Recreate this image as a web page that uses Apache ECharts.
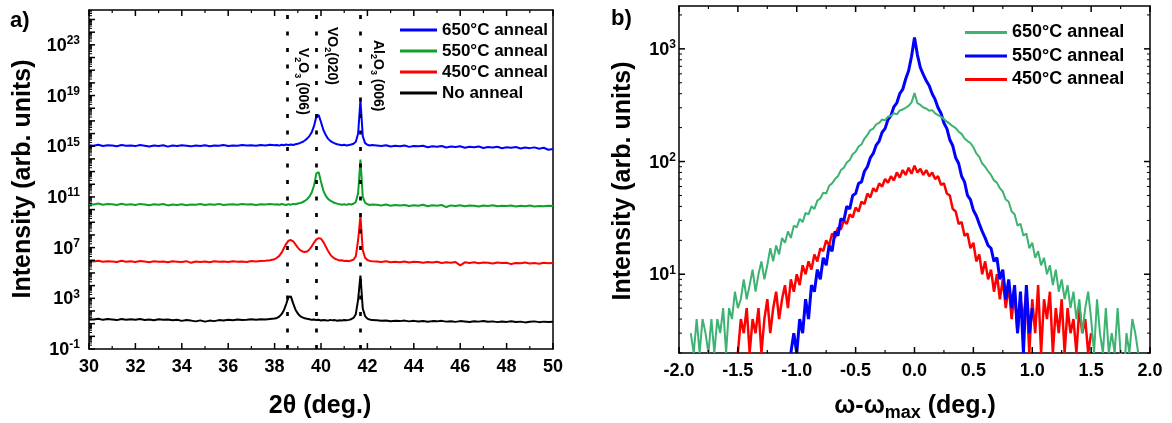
<!DOCTYPE html>
<html><head><meta charset="utf-8">
<script src="https://cdn.jsdelivr.net/npm/echarts@6/dist/echarts.min.js"></script>
<style>html,body{margin:0;padding:0;background:#fff}#chart{width:1172px;height:423px}</style>
</head><body><div id="chart"></div>
<script>
// ---------- Panel a) XRD 2theta scans (values are log10 of intensity) ----------
const twoTheta = [
30,30.2,30.4,30.6,30.8,31,31.2,31.4,31.6,31.8,
32,32.2,32.4,32.6,32.8,33,33.2,33.4,33.6,33.8,
34,34.2,34.4,34.6,34.8,35,35.2,35.4,35.6,35.8,
36,36.2,36.4,36.6,36.8,37,37.2,37.4,37.6,37.8,
38,
38.1,38.2,38.3,38.4,38.5,38.6,38.7,38.8,38.9,39,
39.1,39.2,39.3,39.4,39.5,39.6,39.7,39.8,39.9,40,
40.1,40.2,40.3,40.4,40.5,40.6,40.7,40.8,40.9,41,
41.1,41.2,41.3,41.4,41.5,41.6,41.7,41.8,41.9,42,
42.1,42.2,
42.4,42.6,42.8,43,43.2,43.4,43.6,43.8,44,44.2,
44.4,44.6,44.8,45,45.2,45.4,45.6,45.8,46,46.2,
46.4,46.6,46.8,47,47.2,47.4,47.6,47.8,48,48.2,
48.4,48.6,48.8,49,49.2,49.4,49.6,49.8,50
];
const log10I_noAnneal = [
1.35,1.32,1.38,1.30,1.36,1.33,1.28,1.37,1.31,1.34,
1.30,1.36,1.29,1.33,1.27,1.35,1.30,1.32,1.26,1.31,
1.22,1.28,1.24,1.18,1.26,1.16,1.24,1.20,1.28,1.25,
1.30,1.27,1.33,1.29,1.31,1.35,1.30,1.34,1.32,1.36,
1.40,
1.45,1.55,1.75,2.05,2.55,3.10,3.15,2.60,2.10,1.80,
1.60,1.50,1.42,1.38,1.35,1.30,1.33,1.28,1.31,1.25,
1.29,1.27,1.24,1.30,1.26,1.28,1.23,1.27,1.25,1.29,
1.26,1.30,1.35,1.45,1.75,2.90,4.80,2.20,1.60,1.40,
1.32,1.28,
1.26,1.22,1.25,1.19,1.23,1.20,1.24,1.18,1.22,1.17,
1.21,1.15,1.20,1.18,1.22,1.16,1.19,1.14,1.20,1.17,
1.13,1.19,1.16,1.21,1.15,1.18,1.12,1.17,1.14,1.19,
1.13,1.16,1.10,1.15,1.18,1.12,1.16,1.13,1.15
];
const log10I_450C = [
5.95,5.90,5.97,5.88,5.93,5.91,5.86,5.96,5.89,5.92,
5.87,5.94,5.90,5.85,5.93,5.88,5.91,5.84,5.92,5.89,
5.86,5.93,5.80,5.90,5.87,5.91,5.85,5.92,5.88,5.90,
5.86,5.93,5.89,5.91,5.87,5.94,5.90,5.95,5.96,6.00,
6.08,
6.20,6.35,6.60,6.95,7.30,7.55,7.60,7.50,7.25,7.00,
6.80,6.70,6.65,6.70,6.85,7.10,7.40,7.65,7.75,7.70,
7.45,7.10,6.75,6.45,6.25,6.12,6.05,5.98,6.00,5.95,
5.97,5.93,5.98,6.05,6.30,7.60,9.50,6.80,6.20,6.02,
5.95,5.92,
5.90,5.86,5.92,5.84,5.89,5.85,5.91,5.82,5.88,5.86,
5.80,5.87,5.83,5.89,5.78,5.85,5.81,5.86,5.60,5.84,
5.79,5.85,5.76,5.82,5.80,5.74,5.83,5.78,5.81,5.70,
5.79,5.76,5.82,5.74,5.78,5.72,5.80,5.77,5.79
];
const log10I_550C = [
10.45,10.40,10.48,10.38,10.44,10.42,10.36,10.46,10.39,10.43,
10.37,10.45,10.40,10.34,10.42,10.38,10.44,10.33,10.41,10.37,
10.43,10.35,10.40,10.38,10.44,10.36,10.42,10.39,10.45,10.37,
10.41,10.43,10.38,10.44,10.40,10.42,10.37,10.43,10.41,10.44,
10.40,
10.42,10.38,10.44,10.40,10.36,10.43,10.39,10.45,10.42,10.48,
10.52,10.58,10.68,10.82,11.02,11.35,11.90,12.85,12.95,12.20,
11.50,11.10,10.85,10.70,10.60,10.52,10.47,10.43,10.38,10.42,
10.37,10.44,10.40,10.46,10.60,11.30,13.95,11.00,10.55,10.42,
10.36,10.40,
10.38,10.33,10.40,10.30,10.36,10.32,10.37,10.28,10.35,10.31,
10.38,10.26,10.34,10.30,10.36,10.20,10.33,10.29,10.35,10.27,
10.32,10.30,10.24,10.33,10.28,10.34,10.26,10.31,10.29,10.33,
10.25,10.30,10.27,10.32,10.24,10.29,10.26,10.31,10.28
];
const log10I_650C = [
15.08,15.04,15.12,15.02,15.07,15.05,15.00,15.10,15.03,15.06,
15.01,15.09,15.04,14.98,15.06,15.02,15.08,14.97,15.05,15.01,
15.07,15.03,14.99,15.06,15.02,15.08,15.00,15.05,15.03,15.09,
15.02,15.06,15.04,15.10,15.05,15.08,15.03,15.09,15.06,15.11,
15.08,
15.10,15.05,15.12,15.08,15.14,15.09,15.13,15.10,15.16,15.20,
15.26,15.33,15.45,15.60,15.80,16.10,16.60,17.35,17.45,16.90,
16.30,15.90,15.60,15.42,15.30,15.22,15.16,15.12,15.08,15.11,
15.06,15.10,15.14,15.20,15.35,16.00,18.65,15.80,15.25,15.12,
15.06,15.09,
15.06,15.02,15.08,14.98,15.04,15.00,15.06,14.95,15.02,14.99,
15.04,14.92,15.00,14.96,15.02,14.90,14.98,14.94,15.00,14.88,
14.96,14.92,14.98,14.86,14.94,14.90,14.96,14.84,14.92,14.88,
14.94,14.82,14.90,14.85,14.91,14.80,14.88,14.72,14.78
];
const peakLines = [38.55, 39.78, 41.68];           // V2O3(006), VO2(020), Al2O3(006)
const panelAYLabelExponents = [-1, 3, 7, 11, 15, 19, 23];

// ---------- Panel b) rocking curves (counts) ----------
const omega = [
-1.9,-1.875,-1.85,-1.825,-1.8,-1.775,-1.75,-1.725,-1.7,-1.675,
-1.65,-1.625,-1.6,-1.575,-1.55,-1.525,-1.5,-1.475,-1.45,-1.425,
-1.4,-1.375,-1.35,-1.325,-1.3,-1.275,-1.25,-1.225,-1.2,-1.175,
-1.15,-1.125,-1.1,-1.075,-1.05,-1.025,-1,-0.975,-0.95,-0.925,
-0.9,-0.875,-0.85,-0.825,-0.8,-0.775,-0.75,-0.725,-0.7,-0.675,
-0.65,-0.625,-0.6,-0.575,-0.55,-0.525,-0.5,-0.475,-0.45,-0.425,
-0.4,-0.375,-0.35,-0.325,-0.3,-0.275,-0.25,-0.225,-0.2,-0.175,
-0.15,-0.125,-0.1,-0.075,-0.05,-0.025,0,0.025,0.05,0.075,
0.1,0.125,0.15,0.175,0.2,0.225,0.25,0.275,0.3,0.325,
0.35,0.375,0.4,0.425,0.45,0.475,0.5,0.525,0.55,0.575,
0.6,0.625,0.65,0.675,0.7,0.725,0.75,0.775,0.8,0.825,
0.85,0.875,0.9,0.925,0.95,0.975,1,1.025,1.05,1.075,
1.1,1.125,1.15,1.175,1.2,1.225,1.25,1.275,1.3,1.325,
1.35,1.375,1.4,1.425,1.45,1.475,1.5,1.525,1.55,1.575,
1.6,1.625,1.65,1.675,1.7,1.725,1.75,1.775,1.8,1.825,
1.85,1.875,1.9
];
const counts650C = [
3,2,4,2,4,3,2,4,2,4,
3,5,2,5,4,7,5,6,9,6,
8,11,7,10,13,9,12,17,13,18,
15,21,19,24,21,27,26,31,29,35,
34,40,38,45,47,53,52,61,64,70,
74,84,88,98,103,116,122,136,142,160,
172,190,196,214,220,236,232,250,254,268,
262,284,290,300,312,335,405,330,318,302,
296,282,286,268,258,250,238,226,216,206,
198,184,176,160,152,146,134,118,110,96,
90,82,76,68,65,58,54,46,44,36,
34,27,28,22,23,17,19,14,16,12,
14,10,12,8,11,7,9,6,8,5,
7,4,6,3,5,7,4,2,6,3,
2,5,2,3,2,5,2,1,3,2,
4,3,2
];
const counts550C = [
null,null,null,null,null,null,null,null,null,null,
null,null,null,null,null,null,null,null,null,null,
null,null,null,null,null,null,null,null,null,null,
null,null,null,null,2,3,2,4,3,6,
4,8,7,11,9,14,12,18,16,24,
22,31,30,40,38,50,52,64,66,82,
90,108,118,140,152,182,196,236,256,306,
332,400,436,540,640,860,1260,880,680,590,
520,470,400,356,300,268,220,196,156,138,
108,96,74,66,50,46,37,33,28,24,
21,18,17,13,14,9,11,6,9,5,
8,3,7,2,8,3,5,null,null,null,
null,null,null,null,null,null,null,null,null,null,
null,null,null,null,null,null,null,null,null,null,
null,null,null,null,null,null,null,null,null,null,
null,null,null
];
const counts450C = [
null,null,null,null,null,null,null,null,null,null,
null,null,null,null,null,null,2,4,3,5,
2,4,3,5,2,4,6,3,5,7,
4,6,8,5,9,7,10,8,12,10,
13,11,15,13,17,16,20,18,23,21,
26,25,30,28,34,32,39,36,44,42,
52,48,58,54,64,60,70,65,74,68,
80,72,84,76,88,78,92,80,86,76,
84,74,80,70,74,62,64,52,50,38,
36,28,29,22,23,17,19,13,15,10,
13,9,11,7,10,6,9,5,8,4,
7,3,6,4,7,2,6,3,8,2,
6,4,7,2,5,3,6,2,5,3,
4,2,5,3,4,2,3,null,null,null,
null,null,null,null,null,null,null,null,null,null,
null,null,null
];
const panelBYLabelExponents = [1, 2, 3];

// ---------- helpers ----------
const FONT = "'Liberation Sans', Arial, Helvetica, sans-serif";
function pairs(xs, ys, tf) {
  const out = [];
  for (let i = 0; i < xs.length; i++) {
    const v = ys[i];
    if (v === null || v === undefined) continue;
    out.push([xs[i], tf(v)]);
  }
  return out;
}
const pow10 = e => Math.pow(10, e);
const ident = v => v;

// axis settings
const A_XMIN = 30, A_XMAX = 50, A_XSTEP = 2;
const B_XMIN = -2, B_XMAX = 2, B_XSTEP = 0.5;
const A_MIN = -1, A_MAX = 25.75;                       // decades shown on panel a
const B_YMIN = 2, B_YMAX = 2400;                        // counts shown on panel b
const B_MIN = Math.log10(B_YMIN), B_MAX = Math.log10(B_YMAX);

// tick specs for the frame (drawn through the axes' own scales by custom series)
const MAJ = 6, MIN = 3;
function xTickItems(lo, hi, step) {
  const r = [];
  for (let v = lo; v <= hi + 1e-9; v += step) {
    const m = +(v.toFixed(6)), h = +((v + step / 2).toFixed(6));
    r.push([m, MAJ, 0], [m, MAJ, 1]);
    if (h < hi) r.push([h, MIN, 0], [h, MIN, 1]);
  }
  return r;
}
function yTickItems(loExp, hiExp, sides) {
  const r = [];
  for (let n = Math.floor(loExp); n <= Math.ceil(hiExp); n++) {
    for (let k = 1; k <= 9; k++) {
      const e = n + Math.log10(k);
      if (e < loExp - 1e-9 || e > hiExp + 1e-9) continue;
      sides.forEach(s => r.push([s, k * Math.pow(10, n), k === 1 ? MAJ : MIN]));
    }
  }
  return r;
}
function xTickRenderer(refY) {
  return function (params, api) {
    const cs = params.coordSys;
    const px = api.coord([api.value(0), refY])[0];
    const len = api.value(1), top = api.value(2) === 1;
    const y0 = top ? cs.y : cs.y + cs.height;
    const y1 = top ? y0 + len : y0 - len;
    return { type: 'line', shape: { x1: px, y1: y0, x2: px, y2: y1 },
      style: { stroke: '#000', lineWidth: len > 4 ? 1.5 : 1.2 } };
  };
}
function yTickRenderer(refX) {
  return function (params, api) {
    const cs = params.coordSys;
    const py = api.coord([refX, api.value(1)])[1];
    const len = api.value(2), right = api.value(0) === 1;
    const x0 = right ? cs.x + cs.width : cs.x;
    const x1 = right ? x0 - len : x0 + len;
    return { type: 'line', shape: { x1: x0, y1: py, x2: x1, y2: py },
      style: { stroke: '#000', lineWidth: len > 4 ? 1.5 : 1 } };
  };
}
const tickSeries = (xi, yi, data, renderItem) => ({
  type: 'custom', coordinateSystem: 'cartesian2d', xAxisIndex: xi, yAxisIndex: yi,
  data, renderItem, silent: true, animation: false, clip: false, z: 5
});

const supRich = {
  b: { fontSize: 18, fontWeight: 'bold', fontFamily: FONT, color: '#000', lineHeight: 20, verticalAlign: 'bottom' },
  s: { fontSize: 12, fontWeight: 'bold', fontFamily: FONT, color: '#000', verticalAlign: 'top' }
};
const expFormatter = v => '{b|10}{s|' + Math.round(v) + '}';
const xLabel = { color: '#000', fontSize: 18, fontWeight: 'bold', fontFamily: FONT, margin: 9 };
const axLine = { show: true, onZero: false, lineStyle: { color: '#000', width: 1.5 } };

function yFrameAxis(grid, lo, hi, pos, labels, margin) {
  return {
    gridIndex: grid, type: 'value', min: lo, max: hi, position: pos,
    axisLine: axLine, axisTick: { show: false }, minorTick: { show: false },
    axisLabel: labels ? { show: true, customValues: labels, formatter: expFormatter, rich: supRich, margin: margin } : { show: false },
    splitLine: { show: false }
  };
}
function xAxisDef(grid, lo, hi, step, pos, showLabels, fmt) {
  return {
    gridIndex: grid, type: 'value', min: lo, max: hi, interval: step, position: pos,
    axisLine: axLine, axisTick: { show: false }, minorTick: { show: false },
    axisLabel: showLabels ? Object.assign({ formatter: fmt }, xLabel) : { show: false },
    splitLine: { show: false }
  };
}

const legendNames = {
  a650: '650°C anneal', a550: '550°C anneal', a450: '450°C anneal', a0: 'No anneal',
  b650: '650°C anneal', b550: '550°C anneal', b450: '450°C anneal'
};
const lineSeries = (name, color, xi, yi, data, width) => ({
  name, type: 'line', xAxisIndex: xi, yAxisIndex: yi, data,
  color, showSymbol: false, symbol: 'none', animation: false, silent: true,
  lineStyle: { color, width }, clip: true
});

const subRich = {
  n: { fontSize: 14, fontWeight: 'bold', fontFamily: FONT, color: '#000' },
  sub: { fontSize: 9, fontWeight: 'bold', fontFamily: FONT, color: '#000', verticalAlign: 'bottom', padding: [10, 0, 0, 0] }
};
function rotLabel(x, y, text) {
  return { type: 'text', x, y, rotation: -Math.PI / 2, z: 100,
    style: { text, rich: subRich, align: 'left', verticalAlign: 'middle' } };
}

const chart = echarts.init(document.getElementById('chart'));
chart.setOption({
  animation: false,
  backgroundColor: '#fff',
  grid: [
    { left: 89, top: 10, width: 464, height: 339 },
    { left: 679, top: 6, width: 471, height: 347 }
  ],
  xAxis: [
    xAxisDef(0, A_XMIN, A_XMAX, A_XSTEP, 'bottom', true, v => String(v)),
    xAxisDef(0, A_XMIN, A_XMAX, A_XSTEP, 'top', false),
    xAxisDef(1, B_XMIN, B_XMAX, B_XSTEP, 'bottom', true, v => v.toFixed(1)),
    xAxisDef(1, B_XMIN, B_XMAX, B_XSTEP, 'top', false)
  ],
  yAxis: [
    { gridIndex: 0, type: 'log', logBase: 10, min: pow10(A_MIN), max: pow10(A_MAX), show: false, axisLine: { show: false, onZero: false }, splitLine: { show: false } },
    yFrameAxis(0, A_MIN, A_MAX, 'left', panelAYLabelExponents, 9),
    yFrameAxis(0, A_MIN, A_MAX, 'right', null),
    { gridIndex: 1, type: 'log', logBase: 10, min: B_YMIN, max: B_YMAX, show: false, axisLine: { show: false, onZero: false }, splitLine: { show: false } },
    yFrameAxis(1, B_MIN, B_MAX, 'left', panelBYLabelExponents, 3),
    yFrameAxis(1, B_MIN, B_MAX, 'right', null)
  ],
  legend: [
    { data: ['a650', 'a550', 'a450', 'a0'], formatter: n => legendNames[n], orient: 'vertical',
      left: 400, top: 20, padding: 0, itemWidth: 37, itemHeight: 3, itemGap: 1, icon: 'rect', selectedMode: false,
      textStyle: { color: '#000', fontSize: 17, fontWeight: 'bold', fontFamily: FONT, lineHeight: 20 } },
    { data: ['b650', 'b550', 'b450'], formatter: n => legendNames[n], orient: 'vertical',
      left: 965, top: 22, padding: 0, itemWidth: 42, itemHeight: 3, itemGap: 2.5, icon: 'rect', selectedMode: false,
      textStyle: { color: '#000', fontSize: 18, fontWeight: 'bold', fontFamily: FONT, lineHeight: 21 } }
  ],
  series: [
    lineSeries('a650', '#0000ff', 0, 0, pairs(twoTheta, log10I_650C, pow10), 2),
    lineSeries('a550', '#10a02a', 0, 0, pairs(twoTheta, log10I_550C, pow10), 2),
    lineSeries('a450', '#ff0000', 0, 0, pairs(twoTheta, log10I_450C, pow10), 2),
    Object.assign(lineSeries('a0', '#000000', 0, 0, pairs(twoTheta, log10I_noAnneal, pow10), 2), {
      markLine: { silent: true, symbol: ['none', 'none'], label: { show: false }, animation: false,
        lineStyle: { color: '#000', width: 2.7, type: [4, 12.5] },
        data: peakLines.map(v => ({ xAxis: v })) }
    }),
    lineSeries('b450', '#ff0000', 2, 3, pairs(omega, counts450C, ident), 2.5),
    lineSeries('b550', '#0000ff', 2, 3, pairs(omega, counts550C, ident), 3),
    lineSeries('b650', '#3cb371', 2, 3, pairs(omega, counts650C, ident), 2),
    tickSeries(0, 0, xTickItems(A_XMIN, A_XMAX, A_XSTEP), xTickRenderer(100)),
    tickSeries(0, 0, yTickItems(A_MIN, A_MAX, [0]), yTickRenderer(40)),
    tickSeries(2, 3, xTickItems(B_XMIN, B_XMAX, B_XSTEP), xTickRenderer(100)),
    tickSeries(2, 3, yTickItems(B_MIN, B_MAX, [0, 1]), yTickRenderer(0))
  ],
  graphic: [
    { type: 'text', x: 10, y: 21, z: 100, style: { text: 'a)', fontSize: 22, fontWeight: 'bold', fontFamily: FONT, fill: '#000', verticalAlign: 'middle' } },
    { type: 'text', x: 611, y: 19, z: 100, style: { text: 'b)', fontSize: 22, fontWeight: 'bold', fontFamily: FONT, fill: '#000', verticalAlign: 'middle' } },
    { type: 'text', x: 23, y: 179, rotation: Math.PI / 2, z: 100, style: { text: 'Intensity (arb. units)', fontSize: 25, fontWeight: 'bold', fontFamily: FONT, fill: '#000', align: 'center', verticalAlign: 'middle' } },
    { type: 'text', x: 623.5, y: 181, rotation: Math.PI / 2, z: 100, style: { text: 'Intensity (arb. units)', fontSize: 25, fontWeight: 'bold', fontFamily: FONT, fill: '#000', align: 'center', verticalAlign: 'middle' } },
    { type: 'text', x: 320, y: 406, z: 100, style: { text: '2θ (deg.)', fontSize: 25, fontWeight: 'bold', fontFamily: FONT, fill: '#000', align: 'center', verticalAlign: 'middle' } },
    { type: 'text', x: 915, y: 406, z: 100, style: { text: '{t|ω-ω}{m|max}{t| (deg.)}', align: 'center', verticalAlign: 'middle',
        rich: { t: { fontSize: 25, fontWeight: 'bold', fontFamily: FONT, color: '#000' },
                m: { fontSize: 18, fontWeight: 'bold', fontFamily: FONT, color: '#000', verticalAlign: 'bottom', padding: [14, 0, 0, 0] } } } },
    rotLabel(302.5, 48, '{n|V}{sub|2}{n|O}{sub|3}{n| (006)}'),
    rotLabel(332, 27, '{n|VO}{sub|2}{n|(020)}'),
    rotLabel(378, 40, '{n|Al}{sub|2}{n|O}{sub|3}{n| (006)}')
  ]
});
</script></body></html>
